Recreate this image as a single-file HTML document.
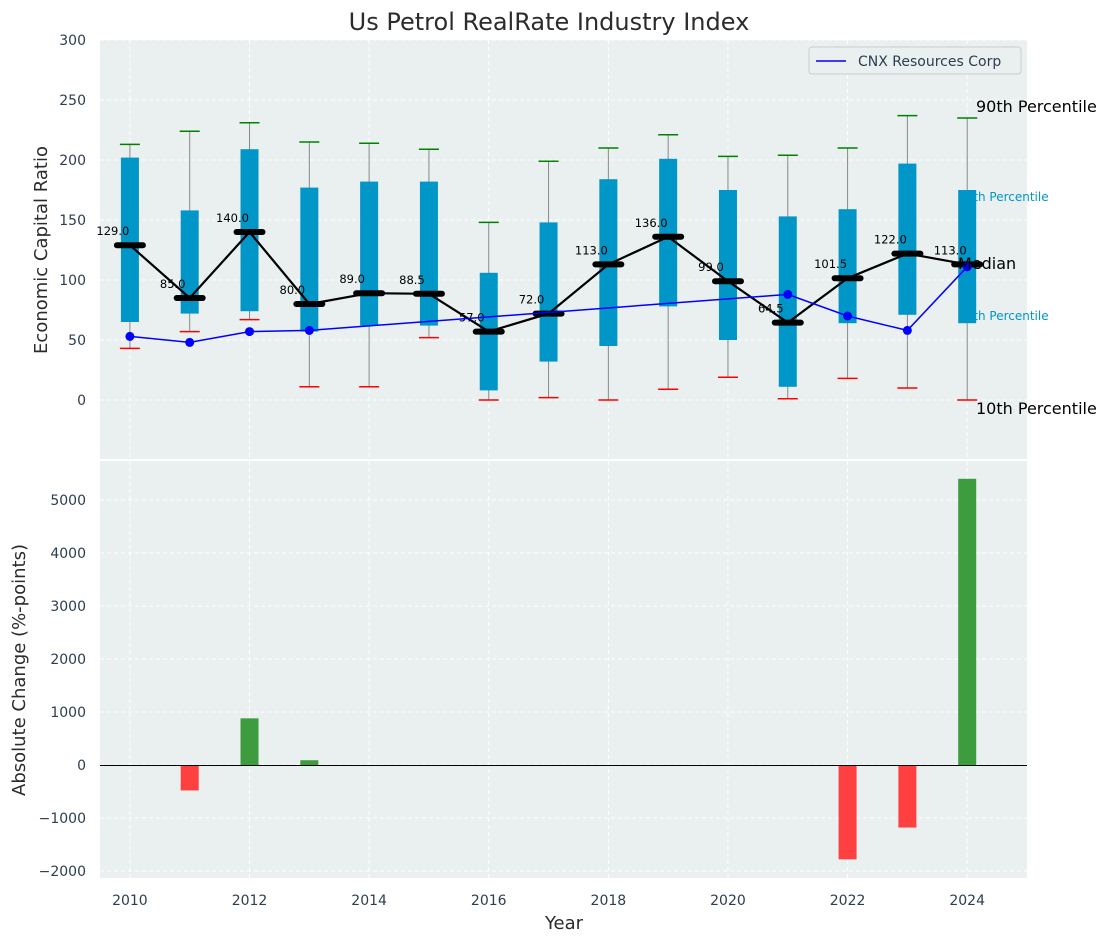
<!DOCTYPE html>
<html><head><meta charset="utf-8"><style>
body{margin:0;background:#fff;}
svg{font-family:"DejaVu Sans","Liberation Sans",sans-serif;}
</style></head><body>
<svg id="c" width="1111" height="942" xmlns="http://www.w3.org/2000/svg"></svg>
<script>
const years=[2010,2011,2012,2013,2014,2015,2016,2017,2018,2019,2020,2021,2022,2023,2024];
const q25=[65,72,74,57,62,62,8,32,45,78,50,11,64,71,64];
const q75=[202,158,209,177,182,182,106,148,184,201,175,153,159,197,175];
const p10=[43,57,67,11,11,52,0,2,0,9,19,1,18,10,0];
const p90=[213,224,231,215,214,209,148,199,210,221,203,204,210,237,235];
const medians=[129,85,140,80,89,88.5,57,72,113,136,99,64.5,101.5,122,113];
const cnxYears=[2010,2011,2012,2013,2021,2022,2023,2024];
const cnxVals=[53,48,57,58,88,70,58,111];
const changes=[0,-480,880,90,0,0,0,0,0,0,0,0,-1780,-1180,5400];
const topTicks=[0,50,100,150,200,250,300];
const botTicks=[-2000,-1000,0,1000,2000,3000,4000,5000];
const xTicks=[2010,2012,2014,2016,2018,2020,2022,2024];

const svg=document.getElementById('c');const NS='http://www.w3.org/2000/svg';
function el(t,a,p){const e=document.createElementNS(NS,t);for(const k in a)e.setAttribute(k,a[k]);(p||svg).appendChild(e);return e;}
const L=100,R=1027;
const X=v=>L+(v-2009.5)/(15.5)*(R-L);
const T0=40,T1=459;const Y1=v=>400-v*1.2;
const B0=461,B1=878;const Y2=v=>765-v*0.053;

let p=el('rect',{x:L,y:T0,width:R-L,height:T1-T0,fill:'#eaeff0'});

p=el('rect',{x:L,y:B0,width:R-L,height:B1-B0,fill:'#eaeff0'});


xTicks.forEach(t=>{[[T0,T1],[B0,B1]].forEach(([a,b])=>el('line',{x1:X(t),x2:X(t),y1:a,y2:b,stroke:'#fff','stroke-dasharray':'4,3'}));});
topTicks.forEach(t=>{el('line',{x1:L,x2:R,y1:Y1(t),y2:Y1(t),stroke:'#fff','stroke-dasharray':'4,3'});
 const tx=el('text',{x:L-14,y:Y1(t)+5,'text-anchor':'end','font-size':14,fill:'#2c3e50'});tx.textContent=t;
 });
botTicks.forEach(t=>{el('line',{x1:L,x2:R,y1:Y2(t),y2:Y2(t),stroke:'#fff','stroke-dasharray':'4,3'});
 const tx=el('text',{x:L-14,y:Y2(t)+5,'text-anchor':'end','font-size':14,fill:'#2c3e50'});tx.textContent=String(t).replace('-','−');
 });
xTicks.forEach(t=>{const tx=el('text',{x:X(t),y:B1+27,'text-anchor':'middle','font-size':14,fill:'#2c3e50'});tx.textContent=t;
 });

years.forEach((y,i)=>{const x=X(y);
 el('line',{x1:x,x2:x,y1:Y1(p10[i]),y2:Y1(p90[i]),stroke:'#888','stroke-width':1});
 const b=el('rect',{x:x-9,y:Y1(q75[i]),width:18,height:Y1(q25[i])-Y1(q75[i]),fill:'#0096c7'});
 
 el('line',{x1:x-10,x2:x+10,y1:Y1(p90[i]),y2:Y1(p90[i]),stroke:'green','stroke-width':1.5});
 el('line',{x1:x-10,x2:x+10,y1:Y1(p10[i]),y2:Y1(p10[i]),stroke:'red','stroke-width':1.5});
});
el('polyline',{points:years.map((y,i)=>X(y)+','+Y1(medians[i])).join(' '),fill:'none',stroke:'#000','stroke-width':2.2});
years.forEach((y,i)=>{const x=X(y);
 const m=el('line',{x1:x-13,x2:x+13,y1:Y1(medians[i]),y2:Y1(medians[i]),stroke:'#000','stroke-width':6,'stroke-linecap':'round'});
 
 const t=el('text',{x:x-17,y:Y1(medians[i])-10,'text-anchor':'middle','font-size':11.5,fill:'#000'});t.textContent=medians[i].toFixed(1);
 
});
el('polyline',{points:cnxYears.map((y,i)=>X(y)+','+Y1(cnxVals[i])).join(' '),fill:'none',stroke:'blue','stroke-width':1.5});
cnxYears.forEach((y,i)=>{const c=el('circle',{cx:X(y),cy:Y1(cnxVals[i]),r:4.5,fill:'blue'});
 });

[['90th Percentile',976,112,16,'#000'],['75th Percentile',958,201,12,'#0096c7'],['Median',958,269,16,'#000'],['25th Percentile',958,320,12,'#0096c7'],['10th Percentile',976,414,16,'#000']].forEach(a=>{
 const t=el('text',{x:a[1],y:a[2],'font-size':a[3],fill:a[4]});t.textContent=a[0];
 });

const lg=el('g',{});
el('rect',{x:809,y:47,width:212,height:27,fill:'#eaeff0',stroke:'#ccc',rx:3},lg);
el('line',{x1:816,x2:846,y1:61,y2:61,stroke:'blue','stroke-width':1.5},lg);
const lt=el('text',{x:858,y:66,'font-size':14,fill:'#2c3e50'},lg);lt.textContent='CNX Resources Corp';

years.forEach((y,i)=>{if(!changes[i])return;const v=changes[i];
 const b=el('rect',{x:X(y)-9,y:Math.min(Y2(v),Y2(0)),width:18,height:Math.abs(Y2(v)-Y2(0)),fill:v>0?'#3d9c3d':'#ff4040'});
 });
el('line',{x1:L,x2:R,y1:Y2(0)+0.5,y2:Y2(0)+0.5,stroke:'#000','stroke-width':1});

let t=el('text',{x:549,y:30,'text-anchor':'middle','font-size':24,fill:'#2c2c2c'});t.textContent='Us Petrol RealRate Industry Index';

t=el('text',{x:47,y:250,'text-anchor':'middle','font-size':18,fill:'#2c2c2c',transform:'rotate(-90 47 250)'});t.textContent='Economic Capital Ratio';

t=el('text',{x:25,y:670,'text-anchor':'middle','font-size':18,fill:'#2c2c2c',transform:'rotate(-90 25 670)'});t.textContent='Absolute Change (%-points)';

t=el('text',{x:564,y:929,'text-anchor':'middle','font-size':18,fill:'#2c2c2c'});t.textContent='Year';

</script>
</body></html>
